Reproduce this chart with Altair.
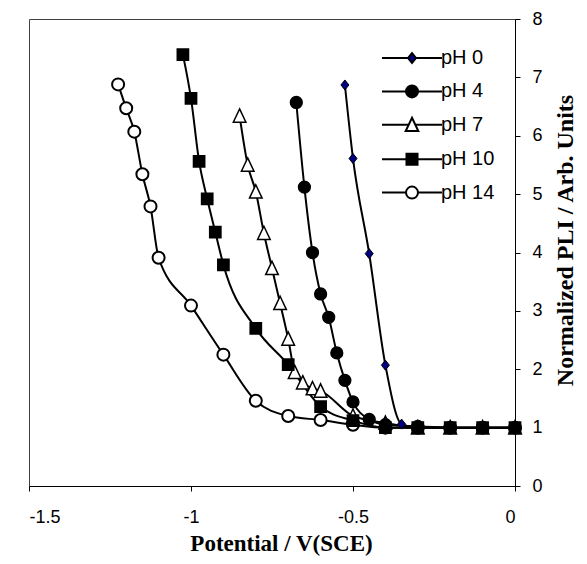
import altair as alt
import pandas as pd

series_names = ["pH 0", "pH 4", "pH 7", "pH 10", "pH 14"]

ph0_x = [-0.525, -0.5, -0.45, -0.4, -0.35, -0.3, -0.2, -0.1, 0.0]
ph0_y = [6.87, 5.61, 3.98, 2.07, 1.06, 1.0, 1.0, 1.0, 1.0]

ph4_x = [-0.675, -0.65, -0.625, -0.6, -0.575, -0.55, -0.525, -0.5, -0.45, -0.4, -0.3, -0.2, -0.1, 0.0]
ph4_y = [6.57, 5.12, 4.0, 3.29, 2.89, 2.28, 1.81, 1.44, 1.14, 1.05, 1.02, 1.0, 1.0, 1.0]

ph7_x = [-0.85, -0.825, -0.8, -0.775, -0.75, -0.725, -0.7, -0.68, -0.655, -0.625, -0.6, -0.5, -0.4, -0.3, -0.2, -0.1, 0.0]
ph7_y = [6.34, 5.50, 5.04, 4.33, 3.73, 3.13, 2.52, 1.95, 1.77, 1.67, 1.63, 1.2, 1.08, 1.0, 1.0, 1.0, 1.0]

ph10_x = [-1.025, -1.0, -0.975, -0.95, -0.925, -0.9, -0.8, -0.7, -0.6, -0.5, -0.4, -0.3, -0.2, -0.1, 0.0]
ph10_y = [7.39, 6.64, 5.56, 4.92, 4.35, 3.79, 2.70, 2.08, 1.36, 1.12, 1.0, 1.0, 1.0, 1.0, 1.0]

ph14_x = [-1.225, -1.2, -1.175, -1.15, -1.125, -1.1, -1.0, -0.9, -0.8, -0.7, -0.6, -0.5, -0.4, -0.3, -0.2, -0.1, 0.0]
ph14_y = [6.88, 6.47, 6.07, 5.34, 4.79, 3.91, 3.09, 2.25, 1.46, 1.20, 1.13, 1.05, 1.0, 1.0, 1.0, 1.0, 1.0]

x_ticks = [-1.5, -1.0, -0.5, 0.0]
y_ticks = [0, 1, 2, 3, 4, 5, 6, 7, 8]

fills = ["#000080", "black", "white", "black", "white"]
strokes = ["black", "black", "black", "black", "black"]
stroke_widths = [1, 2, 2, 2, 2]

# marker paths (unit box scaled by size)
circle = "M0.6,0A0.6,0.6,0,1,1,-0.6,0A0.6,0.6,0,1,1,0.6,0Z"
diamond = "M0,-0.5L0.4,0L0,0.5L-0.4,0Z"
triangle = "M0,-0.7L0.63,0.63L-0.63,0.63Z"
square = "M-0.55,-0.55H0.55V0.55H-0.55Z"
point_shapes = [diamond, circle, triangle, square, circle]

# legend symbols: a line segment with the marker in its middle
legend_shapes = [
    "M-3,0H-0.4M0.4,0H3" + diamond,
    "M-3,0H-0.6M0.6,0H3" + circle,
    "M-3,0H-0.33M0.33,0H3" + triangle,
    "M-3,0H-0.55M0.55,0H3" + square,
    "M-3,0H-0.6M0.6,0H3" + circle,
]

draw_order = ["pH 14", "pH 7", "pH 0", "pH 4", "pH 10"]
data_map = {
    "pH 0": (ph0_x, ph0_y),
    "pH 4": (ph4_x, ph4_y),
    "pH 7": (ph7_x, ph7_y),
    "pH 10": (ph10_x, ph10_y),
    "pH 14": (ph14_x, ph14_y),
}
rows = []
for s in draw_order:
    xs, ys = data_map[s]
    for xv, yv in zip(xs, ys):
        rows.append({"series": s, "potential": xv, "pli": yv})
df = pd.DataFrame(rows)

x_enc = alt.X(
    "potential:Q",
    scale=alt.Scale(domain=[-1.5, 0]),
    axis=alt.Axis(
        title="Potential / V(SCE)",
        values=x_ticks,
        labelExpr="toString(datum.value)",
        orient="bottom",
        labelPadding=17,
        titlePadding=6,
        titleX=252,
        titleAlign="center",
        titleFontSize=23,
    ),
)
y_enc = alt.Y(
    "pli:Q",
    scale=alt.Scale(domain=[0, 8]),
    axis=alt.Axis(
        title="Normalized PLI / Arb. Units",
        values=y_ticks,
        orient="right",
        labelPadding=12,
        titleAngle=270,
        titleBaseline="top",
        titlePadding=11,
        titleY=221,
        titleAlign="center",
        titleFontSize=24,
    ),
)

lines = alt.Chart(df).mark_line(
    interpolate="monotone", color="black", strokeWidth=2
).encode(x=x_enc, y=y_enc, detail="series:N", order="potential:Q")

points = alt.Chart(df).mark_point(
    filled=True, stroke="black", size=400, opacity=1
).encode(
    x=x_enc,
    y=y_enc,
    shape=alt.Shape("series:N", scale=alt.Scale(domain=series_names, range=point_shapes), legend=None),
    fill=alt.Fill("series:N", scale=alt.Scale(domain=series_names, range=fills), legend=None),
    strokeWidth=alt.StrokeWidth("series:N", scale=alt.Scale(domain=series_names, range=stroke_widths), legend=None),
)

legend_props = dict(
    title=None,
    orient="none",
    legendX=372,
    legendY=28,
    symbolSize=400,
    symbolStrokeWidth=2,
    symbolStrokeColor="black",
    symbolOpacity=1,
    labelOffset=18,
    rowPadding=12.4,
    labelFont="Liberation Sans",
    labelFontSize=20,
    labelColor="black",
    padding=0,
)

legend_layer = alt.Chart(df).transform_filter("false").mark_point(
    filled=True, strokeWidth=2, size=400, opacity=1
).encode(
    x=x_enc,
    y=y_enc,
    shape=alt.Shape(
        "series:N",
        scale=alt.Scale(domain=series_names, range=legend_shapes),
        legend=alt.Legend(**legend_props),
    ),
    fill=alt.Fill(
        "series:N",
        scale=alt.Scale(domain=series_names, range=fills),
        legend=alt.Legend(**legend_props),
    ),
    stroke=alt.Stroke(
        "series:N",
        scale=alt.Scale(domain=series_names, range=strokes),
        legend=alt.Legend(**legend_props),
    ),
)

chart = (
    alt.layer(lines, points, legend_layer)
    .resolve_scale(shape="independent", fill="independent", stroke="independent")
    .properties(
        width=486,
        height=467,
        padding={"left": 21, "top": 11, "right": 64, "bottom": 70},
        autosize=alt.AutoSizeParams(type="none"),
        background="white",
    )
    .configure_view(stroke="#404040", strokeWidth=1)
    .configure_axis(
        grid=False,
        domainColor="black",
        domainWidth=1,
        tickColor="black",
        tickSize=5,
        labelFont="Liberation Sans",
        labelFontSize=18,
        labelColor="black",
        titleFont="Liberation Serif",
        titleFontWeight="bold",
        titleFontSize=24,
        titleColor="black",
    )
)

chart.save("out.html", embed_options={"renderer": "svg", "actions": False})
